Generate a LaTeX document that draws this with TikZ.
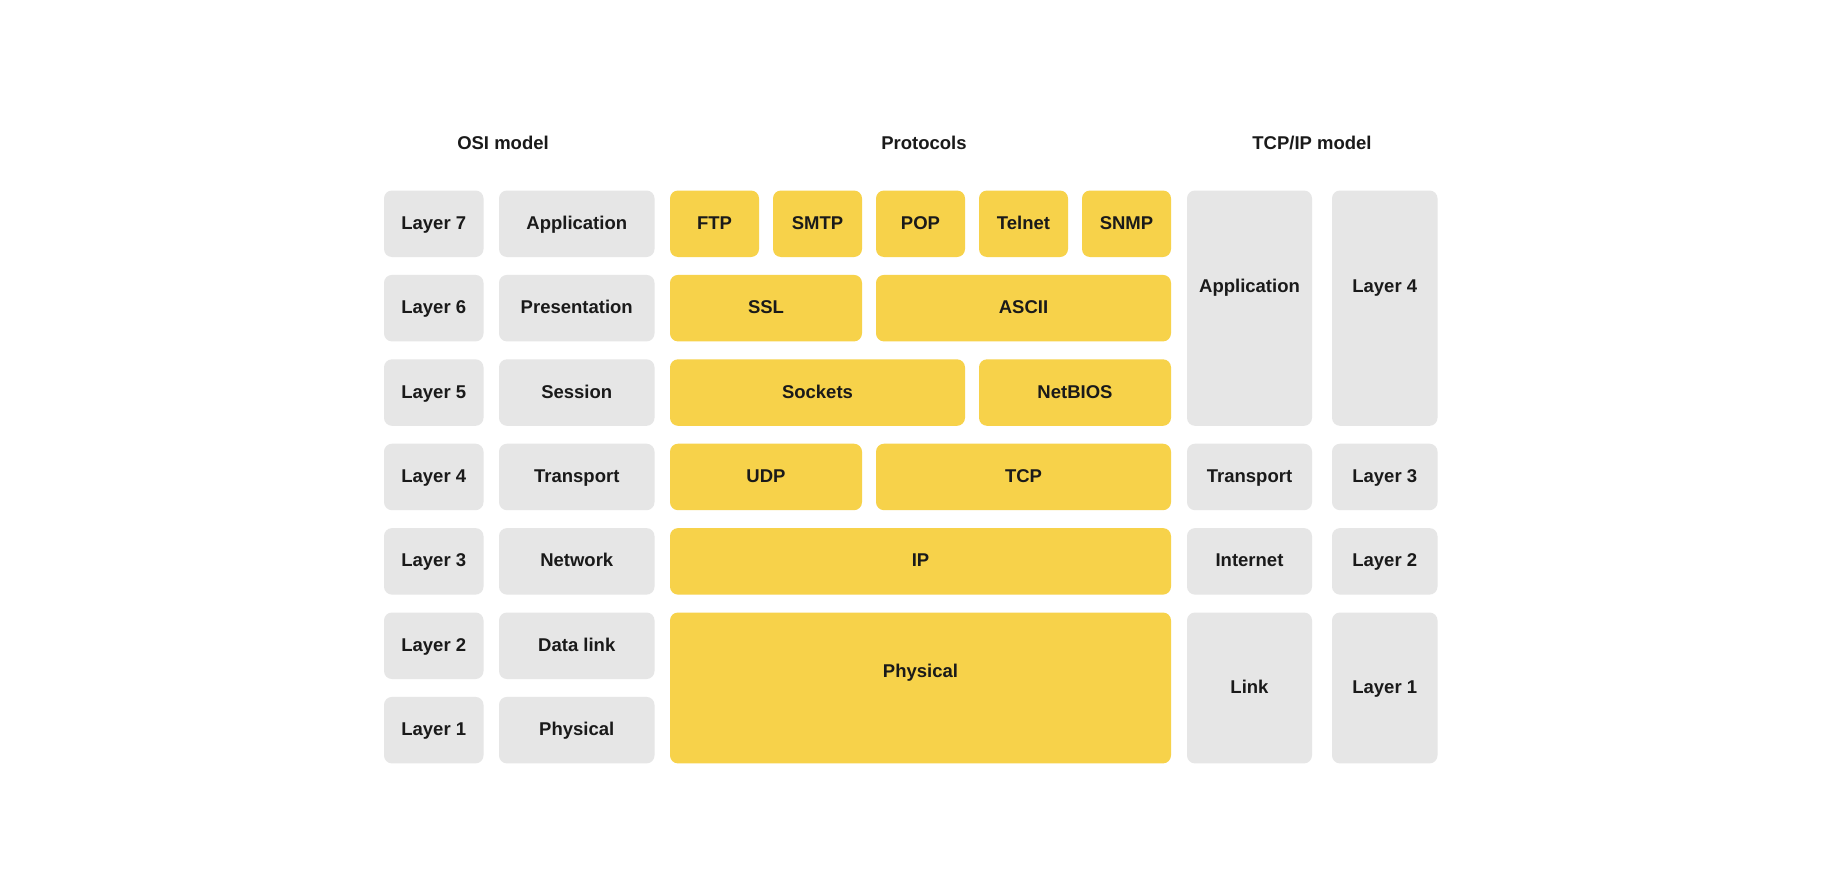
\documentclass[tikz,border=0pt]{standalone}
\usepackage{fontspec}
\setmainfont{Liberation Sans}
\definecolor{boxgrey}{HTML}{E6E6E6}
\definecolor{boxyellow}{HTML}{F7D24A}
\definecolor{txt}{HTML}{1A1A1A}
\newcommand\bx[7]{\node[#2, minimum width={#5-#3}, minimum height={#6-#4}] (#1) at ({(#3+#5)/2},{(#4+#6)/2}) {#7};}
\begin{document}
\begin{tikzpicture}[x=1pt,y=-1pt,
  every node/.style={font=\fontsize{18.5}{22}\selectfont\bfseries, text=txt, inner sep=0pt, text height=13.2pt, text depth=2pt},
  gbox/.style={fill=boxgrey, draw=none, rounded corners=8pt},
  ybox/.style={fill=boxyellow, draw=none, rounded corners=8pt},
  ttl/.style={}]
\fill[white] (0,0) rectangle (1824,878);
\useasboundingbox (0,0) rectangle (1824,878);
% titles
\node[ttl] (tosi) at (503,144) {OSI model};
\node[ttl] (tproto) at (924,144) {Protocols};
\node[ttl] (ttcp) at (1312,144) {TCP/IP model};
% OSI layers
\bx{l7}{gbox}{384}{190.5}{483.5}{257}{Layer 7}
\bx{l6}{gbox}{384}{274.9}{483.5}{341.4}{Layer 6}
\bx{l5}{gbox}{384}{359.3}{483.5}{425.8}{Layer 5}
\bx{l4}{gbox}{384}{443.7}{483.5}{510.2}{Layer 4}
\bx{l3}{gbox}{384}{528.1}{483.5}{594.6}{Layer 3}
\bx{l2}{gbox}{384}{612.5}{483.5}{679}{Layer 2}
\bx{l1}{gbox}{384}{696.9}{483.5}{763.4}{Layer 1}
% OSI names
\bx{o7}{gbox}{499}{190.5}{654.5}{257}{Application}
\bx{o6}{gbox}{499}{274.9}{654.5}{341.4}{Presentation}
\bx{o5}{gbox}{499}{359.3}{654.5}{425.8}{Session}
\bx{o4}{gbox}{499}{443.7}{654.5}{510.2}{Transport}
\bx{o3}{gbox}{499}{528.1}{654.5}{594.6}{Network}
\bx{o2}{gbox}{499}{612.5}{654.5}{679}{Data link}
\bx{o1}{gbox}{499}{696.9}{654.5}{763.4}{Physical}
% protocols
\bx{ftp}{ybox}{670}{190.5}{759}{257}{FTP}
\bx{smtp}{ybox}{773}{190.5}{862}{257}{SMTP}
\bx{pop}{ybox}{876}{190.5}{965}{257}{POP}
\bx{telnet}{ybox}{979}{190.5}{1068}{257}{Telnet}
\bx{snmp}{ybox}{1082}{190.5}{1171}{257}{SNMP}
\bx{ssl}{ybox}{670}{274.9}{862}{341.4}{SSL}
\bx{ascii}{ybox}{876}{274.9}{1171}{341.4}{ASCII}
\bx{sockets}{ybox}{670}{359.3}{965}{425.8}{Sockets}
\bx{netbios}{ybox}{979}{359.3}{1171}{425.8}{NetBIOS}
\bx{udp}{ybox}{670}{443.7}{862}{510.2}{UDP}
\bx{tcp}{ybox}{876}{443.7}{1171}{510.2}{TCP}
\bx{ip}{ybox}{670}{528.1}{1171}{594.6}{IP}
\bx{phys}{ybox}{670}{612.5}{1171}{763.4}{}
\node (physt) at (920.5,671.5) {Physical};
% TCP/IP names
\bx{tapp}{gbox}{1187}{190.5}{1312}{425.8}{}
\node (tappt) at (1249.5,287) {Application};
\bx{ttrans}{gbox}{1187}{443.7}{1312}{510.2}{Transport}
\bx{tinet}{gbox}{1187}{528.1}{1312}{594.6}{Internet}
\bx{tlink}{gbox}{1187}{612.5}{1312}{763.4}{Link}
% TCP/IP layers
\bx{tl4}{gbox}{1332}{190.5}{1437.5}{425.8}{}
\node (tl4t) at (1384.75,287) {Layer 4};
\bx{tl3}{gbox}{1332}{443.7}{1437.5}{510.2}{Layer 3}
\bx{tl2}{gbox}{1332}{528.1}{1437.5}{594.6}{Layer 2}
\bx{tl1}{gbox}{1332}{612.5}{1437.5}{763.4}{Layer 1}
\end{tikzpicture}
\end{document}
